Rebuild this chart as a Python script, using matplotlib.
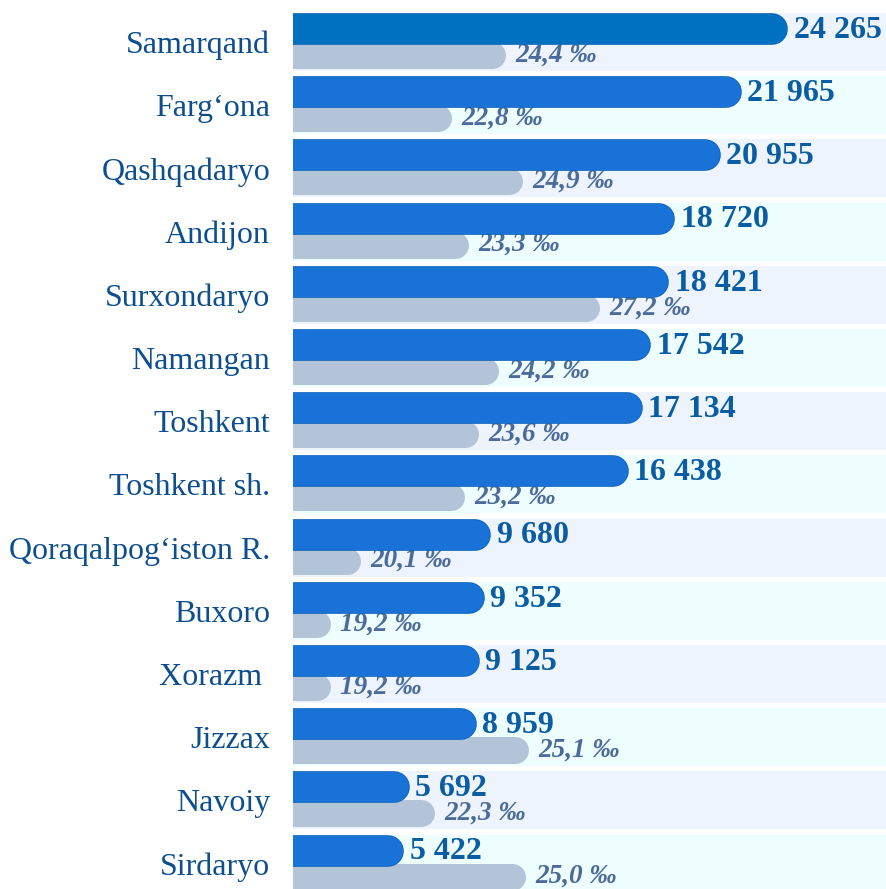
import matplotlib
import matplotlib.pyplot as plt
import matplotlib.patheffects as pe

matplotlib.use("AGG")

regions = [
    "Samarqand", "Farg\u2018ona", "Qashqadaryo", "Andijon", "Surxondaryo",
    "Namangan", "Toshkent", "Toshkent sh.", "Qoraqalpog\u2018iston R.",
    "Buxoro", "Xorazm ", "Jizzax", "Navoiy", "Sirdaryo",
]
births = [24265, 21965, 20955, 18720, 18421, 17542, 17134,
          16438, 9680, 9352, 9125, 8959, 5692, 5422]
rates = [24.4, 22.8, 24.9, 23.3, 27.2, 24.2, 23.6,
         23.2, 20.1, 19.2, 19.2, 25.1, 22.3, 25.0]

DPI = 100
W, H = 886, 889
SERIF = ["Liberation Serif", "DejaVu Serif"]

BAND_A = "#eef4fd"
BAND_B = "#eefdfe"
BLUE = "#1872d8"
BLUE_TOP = "#0070c0"
BLUE_EDGE = "#0b62b8"
GREY = "#b3c3d8"
NAME_COLOR = "#0d4f8e"
NUM_COLOR = "#0a5ca3"
RATE_COLOR = "#4a6b9b"

fig = plt.figure(figsize=(W / DPI, H / DPI), dpi=DPI)
left_px, top_px = 293, 10.4
pitch = 63.2
n = len(regions)
ax_w = W - left_px
ax_h = H - top_px
ax = fig.add_axes([left_px / W, 0, ax_w / W, ax_h / H])
ax2 = ax.twiny()

y_min = -0.5
y_max = y_min + ax_h / pitch
ax.set_ylim(y_max, y_min)

blue_lim = (0, 29100)
rate_lim = (18.1, 35.7)
ax2.set_xlim(*blue_lim)
ax.set_xlim(*rate_lim)

# pixel -> data conversions
px_blue = ax_w / (blue_lim[1] - blue_lim[0])
px_rate = ax_w / (rate_lim[1] - rate_lim[0])
pt = 72 / DPI

blue_h, grey_h = 30, 27
blue_off = -13 / pitch
grey_off = 13 / pitch

for i in range(n):
    ax.axhspan(i - 0.46, i + 0.46, color=BAND_A if i % 2 == 0 else BAND_B,
               lw=0, zorder=0)

for i, r in enumerate(rates):
    y = i + grey_off
    cap = grey_h / 2 / px_rate
    ax.plot([rate_lim[0] - 5, r - cap], [y, y], color=GREY,
            lw=grey_h * pt, solid_capstyle="round", zorder=2)
    ax.annotate(f"{r:.1f}".replace(".", ",") + " \u2030", (r, y),
                xytext=(7, 0), textcoords="offset points",
                ha="left", va="center", fontsize=19.5, fontweight="bold",
                fontstyle="italic", family=SERIF, color=RATE_COLOR)

for i, b in enumerate(births):
    y = i + blue_off
    cap = blue_h / 2 / px_blue
    ax2.plot([blue_lim[0] - 2000, b - cap], [y, y],
             color=BLUE_TOP if i == 0 else BLUE,
             lw=blue_h * pt, solid_capstyle="round", zorder=3,
             path_effects=[pe.Stroke(linewidth=blue_h * pt + 1.2,
                                     foreground=BLUE_EDGE), pe.Normal()])
    ax2.annotate(f"{b:,}".replace(",", " "), (b, y),
                 xytext=(4.5, -1), textcoords="offset points",
                 ha="left", va="center", fontsize=23, fontweight="bold",
                 family=SERIF, color=NUM_COLOR)

ax.set_yticks(range(n))
ax.set_yticklabels(regions, fontsize=23, family=SERIF, color=NAME_COLOR)
ax.tick_params(axis="y", length=0, pad=16.5)
ax.set_xticks([])
ax2.set_xticks([])
for a in (ax, ax2):
    for s in a.spines.values():
        s.set_visible(False)
ax.patch.set_visible(False)

fig.savefig("out.png", dpi=DPI)
